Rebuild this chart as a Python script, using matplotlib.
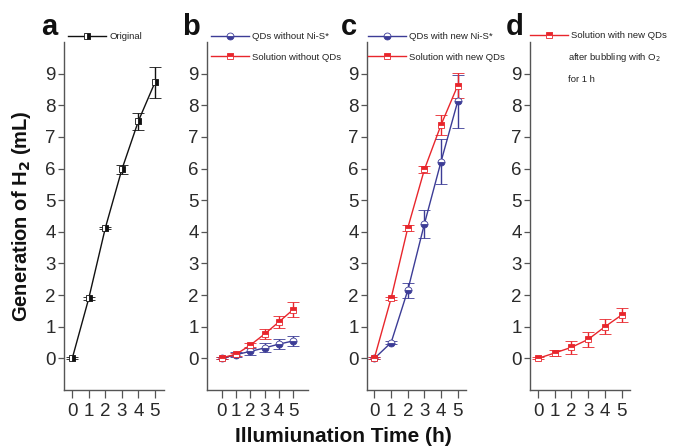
import matplotlib
matplotlib.use("Agg")
import matplotlib.pyplot as plt
from matplotlib.lines import Line2D

plt.rcParams['font.family'] = ['Liberation Sans', 'DejaVu Sans']

# ---- data ----
hours = [0, 1, 2, 3, 4, 5]

orig_y = [0.0, 1.9, 4.12, 5.97, 7.5, 8.72]
orig_err = [0.03, 0.05, 0.04, 0.15, 0.27, 0.48]

b_blue_y = [0.0, 0.12, 0.22, 0.33, 0.45, 0.55]
b_blue_err = [0.03, 0.08, 0.1, 0.14, 0.16, 0.16]
b_red_y = [0.02, 0.13, 0.42, 0.77, 1.15, 1.54]
b_red_err = [0.03, 0.05, 0.06, 0.15, 0.19, 0.23]

c_blue_y = [0.0, 0.5, 2.15, 4.25, 6.22, 8.12]
c_blue_err = [0.03, 0.06, 0.24, 0.44, 0.71, 0.84]
c_red_y = [0.02, 1.9, 4.12, 5.97, 7.38, 8.62]
c_red_err = [0.03, 0.05, 0.1, 0.11, 0.31, 0.4]

d_red_y = [0.0, 0.17, 0.35, 0.6, 1.0, 1.37]
d_red_err = [0.03, 0.1, 0.2, 0.24, 0.24, 0.22]

yticks = [0, 1, 2, 3, 4, 5, 6, 7, 8, 9]
xticks = [0, 1, 2, 3, 4, 5]

BLUE = '#3c3c96'
RED = '#e8262c'
BLACK = '#111111'
AXC = '#555555'
TXT = '#2a2a2a'

W, H = 675, 448
fig = plt.figure(figsize=(W / 100, H / 100), dpi=100)
fig.patch.set_facecolor('white')


def make_ax(x0, x1, xlim):
    top, bot = 42, 390
    ax = fig.add_axes([x0 / W, (H - bot) / H, (x1 - x0) / W, (bot - top) / H])
    ax.set_xlim(*xlim)
    ax.set_ylim(-1, 10)
    for s in ('top', 'right'):
        ax.spines[s].set_visible(False)
    for s in ('left', 'bottom'):
        ax.spines[s].set_color(AXC)
        ax.spines[s].set_linewidth(1.0)
    ax.set_yticks(yticks)
    ax.set_xticks(xticks)
    ax.tick_params(axis='both', direction='out', color=AXC, labelcolor=TXT,
                   labelsize=13.5, width=0.9)
    ax.tick_params(axis='y', length=4, pad=2)
    ax.tick_params(axis='x', length=6, pad=3)
    ax.set_facecolor('none')
    return ax


def series(ax, y, err, color, marker, fill, alt='white', label=None, ms=5):
    ax.errorbar(hours, y, yerr=err, color=color, ecolor=color, elinewidth=1.0,
                capsize=4.5, capthick=1.0, lw=1.0, marker=marker, ms=ms,
                fillstyle=fill, markerfacecolor=color, markerfacecoloralt=alt,
                markeredgecolor=color, markeredgewidth=0.6, label=label, zorder=3)


def legend(ax, entries, x_px, y_px, spacing=1.25):
    handles = [Line2D([], [], color=c, lw=1.0, marker=m, ms=5, fillstyle=f,
                      markerfacecolor=c, markerfacecoloralt='white',
                      markeredgecolor=c, markeredgewidth=0.6)
               for (c, m, f, _) in entries]
    labels = [e[3] for e in entries]
    leg = ax.legend(handles, labels, loc='upper left',
                    bbox_to_anchor=(x_px / W, (H - y_px) / H),
                    bbox_transform=fig.transFigure, frameon=False,
                    fontsize=6.8, handlelength=4.0, handletextpad=0.35,
                    borderpad=0, borderaxespad=0, labelspacing=spacing)
    for t in leg.get_texts():
        t.set_color('#222222')
    return leg


# panel a
ax_a = make_ax(64, 164, (-0.5, 5.55))
series(ax_a, orig_y, orig_err, BLACK, 's', 'right', label='Original')
legend(ax_a, [(BLACK, 's', 'right', 'Original')], 68, 32)

# panel b
ax_b = make_ax(207, 308, (-1.05, 6.05))
series(ax_b, b_blue_y, b_blue_err, BLUE, 'o', 'bottom')
series(ax_b, b_red_y, b_red_err, RED, 's', 'top')
legend(ax_b, [(BLUE, 'o', 'bottom', 'QDs without Ni-S*'),
              (RED, 's', 'top', 'Solution without QDs')], 211, 32)

# panel c
ax_c = make_ax(367, 466, (-0.45, 5.5))
series(ax_c, c_blue_y, c_blue_err, BLUE, 'o', 'bottom')
series(ax_c, c_red_y, c_red_err, RED, 's', 'top')
legend(ax_c, [(BLUE, 'o', 'bottom', 'QDs with new Ni-S*'),
              (RED, 's', 'top', 'Solution with new QDs')], 368, 32)

# panel d
ax_d = make_ax(530, 630, (-0.48, 5.5))
series(ax_d, d_red_y, d_red_err, RED, 's', 'top')
legend(ax_d, [(RED, 's', 'top', 'Solution with new QDs')], 530, 31)
fig.text(568 / W, (H - 57) / H, 'after bubbling with O$_2$', fontsize=6.8,
         color='#222222', va='center', ha='left')
fig.text(568 / W, (H - 80) / H, 'for 1 h', fontsize=6.8,
         color='#222222', va='center', ha='left')

# panel letters
for lab, xp in (('a', 41), ('b', 182), ('c', 341), ('d', 506)):
    fig.text(xp / W, (H - 35) / H, lab, fontsize=21, fontweight='bold',
             color='#111111', ha='left', va='baseline')

# axis labels
fig.text(22 / W, (H - 216) / H, 'Generation of H$_\\mathbf{2}$ (mL)', rotation=90,
         fontsize=14.5, fontweight='bold', color='#111111', ha='center', va='center')
fig.text(343 / W, (H - 436) / H, 'Illumiunation Time (h)',
         fontsize=15, fontweight='bold', color='#111111', ha='center', va='center')

fig.savefig('out.png', dpi=100, facecolor='white')
